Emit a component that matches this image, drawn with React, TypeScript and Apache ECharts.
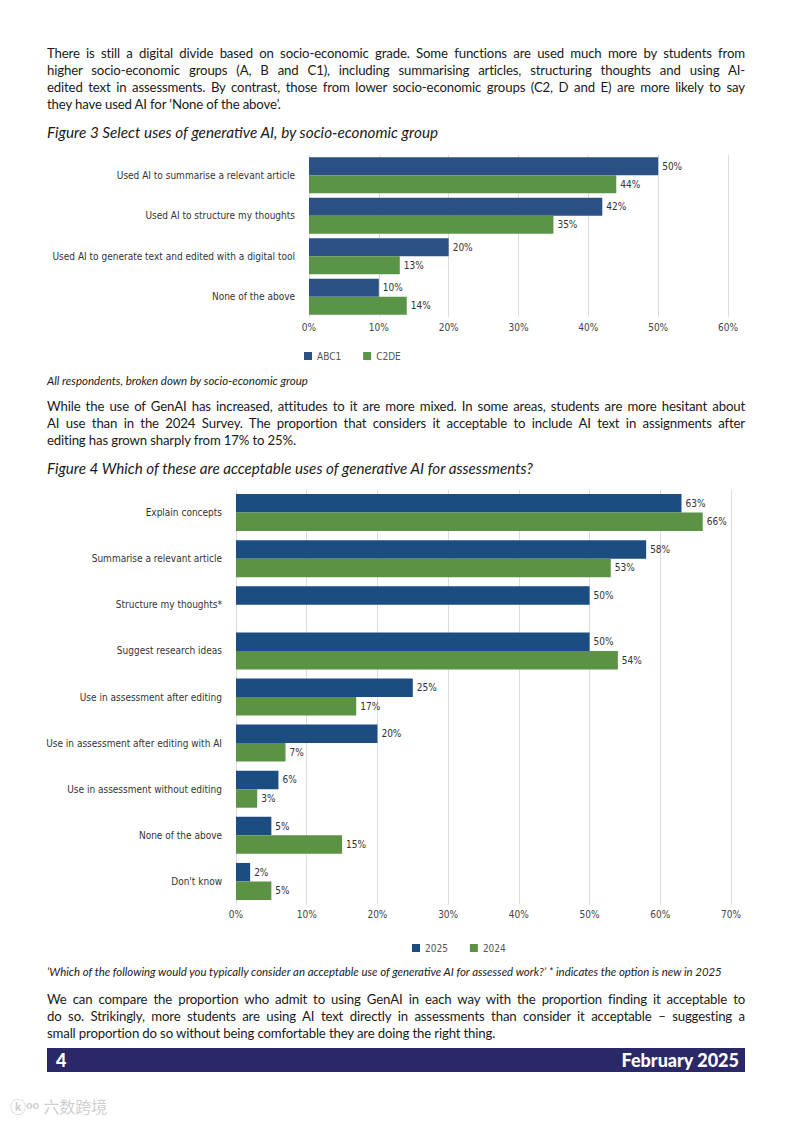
import React, { useEffect, useRef } from "react";
import * as echarts from "echarts";

const fig3Categories = [
  "Used AI to summarise a relevant article",
  "Used AI to structure my thoughts",
  "Used AI to generate text and edited with a digital tool",
  "None of the above",
];
const fig3ABC1 = [50, 42, 20, 10];
const fig3C2DE = [44, 35, 13, 14];
const fig3Ticks = [0, 10, 20, 30, 40, 50, 60];

const fig4Categories = [
  "Explain concepts",
  "Summarise a relevant article",
  "Structure my thoughts*",
  "Suggest research ideas",
  "Use in assessment after editing",
  "Use in assessment after editing with AI",
  "Use in assessment without editing",
  "None of the above",
  "Don't know",
];
const fig4Y2025 = [63, 58, 50, 50, 25, 20, 6, 5, 2];
const fig4Y2024: (number | null)[] = [66, 53, null, 54, 17, 7, 3, 15, 5];
const fig4Ticks = [0, 10, 20, 30, 40, 50, 60, 70];

const para1 = [
  "There is still a digital divide based on socio-economic grade. Some functions are used much more by students from",
  "higher socio-economic groups (A, B and C1), including summarising articles, structuring thoughts and using AI-",
  "edited text in assessments. By contrast, those from lower socio-economic groups (C2, D and E) are more likely to say",
  "they have used AI for \u2018None of the above\u2019.",
];
const para2 = [
  "While the use of GenAI has increased, attitudes to it are more mixed. In some areas, students are more hesitant about",
  "AI use than in the 2024 Survey. The proportion that considers it acceptable to include AI text in assignments after",
  "editing has grown sharply from 17% to 25%.",
];
const para3 = [
  "We can compare the proportion who admit to using GenAI in each way with the proportion finding it acceptable to",
  "do so. Strikingly, more students are using AI text directly in assessments than consider it acceptable \u2013 suggesting a",
  "small proportion do so without being comfortable they are doing the right thing.",
];

const FONT = "'Liberation Sans Narrow', 'DejaVu Sans Condensed', Lato, sans-serif";
const BODY_FONT = "Lato, 'Liberation Sans', sans-serif";

function Para({ lines, top }: { lines: string[]; top: number }) {
  return (
    <div style={{ position: "absolute", left: 47, top, width: 698 }}>
      {lines.map((l, i) => (
        <div
          key={i}
          style={{
            height: 17,
            lineHeight: "17px",
            fontSize: 13.2,
            fontFamily: BODY_FONT,
            color: "#1a1a1a",
            whiteSpace: "nowrap",
            textAlign: i < lines.length - 1 ? "justify" : "left",
            textAlignLast: i < lines.length - 1 ? "justify" : "left",
            letterSpacing: -0.15,
          } as any}
        >
          {l}
        </div>
      ))}
    </div>
  );
}

const captionStyle = (top: number, size: number): React.CSSProperties => ({
  position: "absolute",
  left: 47,
  top,
  fontSize: size,
  fontStyle: "italic",
  fontFamily: BODY_FONT,
  color: "#1a1a1a",
  whiteSpace: "nowrap",
});

export default function App() {
  const ref = useRef<HTMLDivElement>(null);
  useEffect(() => {
    if (!ref.current) return;
    const chart = echarts.init(ref.current, undefined, { renderer: "svg" });
    const label = {
      show: true,
      position: "right" as const,
      distance: 4,
      fontSize: 10,
      color: "#333",
      fontFamily: FONT,
      formatter: (p: any) => (p.value == null ? "" : p.value + "%"),
    };
    const xAxisCommon = (gridIndex: number, max: number) => ({
      type: "value" as const,
      gridIndex,
      min: 0,
      max,
      interval: 10,
      axisLine: { show: false },
      axisTick: { show: false },
      axisLabel: {
        fontSize: 10,
        color: "#444",
        fontFamily: FONT,
        margin: 5,
        formatter: (v: number) => v + "%",
      },
      splitLine: { show: true, lineStyle: { color: "#dcdcdc", width: 1 } },
    });
    const yAxisCommon = (gridIndex: number, data: string[]) => ({
      type: "category" as const,
      gridIndex,
      data,
      inverse: true,
      axisLine: { show: false },
      axisTick: { show: false },
      axisLabel: { fontSize: 10, color: "#333", fontFamily: FONT, margin: 14 },
      splitLine: { show: false },
    });
    chart.setOption({
      animation: false,
      grid: [
        { left: 309, width: 419, top: 155, height: 162 },
        { left: 236, width: 495, top: 489.5, height: 415 },
      ],
      legend: [
        {
          data: ["ABC1", "C2DE"],
          left: 299,
          top: 346,
          itemWidth: 8,
          itemHeight: 8,
          itemGap: 22,
          icon: "rect",
          textStyle: { fontSize: 10, color: "#555", fontFamily: FONT },
        },
        {
          data: ["2025", "2024"],
          left: 407,
          top: 938,
          itemWidth: 8,
          itemHeight: 8,
          itemGap: 22,
          icon: "rect",
          textStyle: { fontSize: 10, color: "#555", fontFamily: FONT },
        },
      ],
      xAxis: [xAxisCommon(0, fig3Ticks[fig3Ticks.length - 1]), xAxisCommon(1, fig4Ticks[fig4Ticks.length - 1])],
      yAxis: [yAxisCommon(0, fig3Categories), yAxisCommon(1, fig4Categories)],
      series: [
        {
          name: "ABC1",
          type: "bar",
          xAxisIndex: 0,
          yAxisIndex: 0,
          data: fig3ABC1,
          barWidth: 18,
          barGap: "0%",
          itemStyle: { color: "#2b5184" },
          label,
        },
        {
          name: "C2DE",
          type: "bar",
          xAxisIndex: 0,
          yAxisIndex: 0,
          data: fig3C2DE,
          barWidth: 18,
          barGap: "0%",
          itemStyle: { color: "#5a9447" },
          label,
        },
        {
          name: "2025",
          type: "bar",
          xAxisIndex: 1,
          yAxisIndex: 1,
          data: fig4Y2025,
          barWidth: 18.5,
          barGap: "0%",
          itemStyle: { color: "#1b4d82" },
          label,
        },
        {
          name: "2024",
          type: "bar",
          xAxisIndex: 1,
          yAxisIndex: 1,
          data: fig4Y2024,
          barWidth: 18.5,
          barGap: "0%",
          itemStyle: { color: "#5b9244" },
          label,
        },
      ],
    });
    return () => chart.dispose();
  }, []);

  return (
    <div style={{ position: "absolute", left: 0, top: 0, width: 793, height: 1121, background: "#fff", overflow: "hidden" }}>
      <div ref={ref} style={{ position: "absolute", left: 0, top: 0, width: 793, height: 1121 }} />
      <Para lines={para1} top={45} />
      <div style={captionStyle(123, 15.3)}>Figure 3 Select uses of generative AI, by socio-economic group</div>
      <div style={captionStyle(374, 11.5)}>All respondents, broken down by socio-economic group</div>
      <Para lines={para2} top={398} />
      <div style={captionStyle(459, 15.2)}>
        Figure 4 Which of these are acceptable uses of generative AI for assessments?
      </div>
      <div style={captionStyle(965, 11.4)}>
        {"\u2018Which of the following would you typically consider an acceptable use of generative AI for assessed work?\u2019 * indicates the option is new in 2025"}
      </div>
      <Para lines={para3} top={991} />
      <div
        style={{
          position: "absolute",
          left: 47,
          top: 1048,
          width: 698,
          height: 24,
          background: "#2b2868",
          color: "#fff",
          fontFamily: BODY_FONT,
          fontWeight: 900,
          fontSize: 18,
          lineHeight: "24px",
        }}
      >
        <span style={{ position: "absolute", left: 9 }}>4</span>
        <span style={{ position: "absolute", right: 6 }}>February 2025</span>
      </div>
      <div
        style={{
          position: "absolute",
          left: 10,
          top: 1094,
          fontSize: 16,
          color: "#d0d0d0",
          fontFamily: "'Noto Sans CJK SC', sans-serif",
        }}
      >
        <span style={{ fontWeight: 700, marginRight: 4 }}>{"\u24DA\u1D52\u1D52"}</span>
        {"\u516D\u6570\u8DE8\u5883"}
      </div>
    </div>
  );
}
